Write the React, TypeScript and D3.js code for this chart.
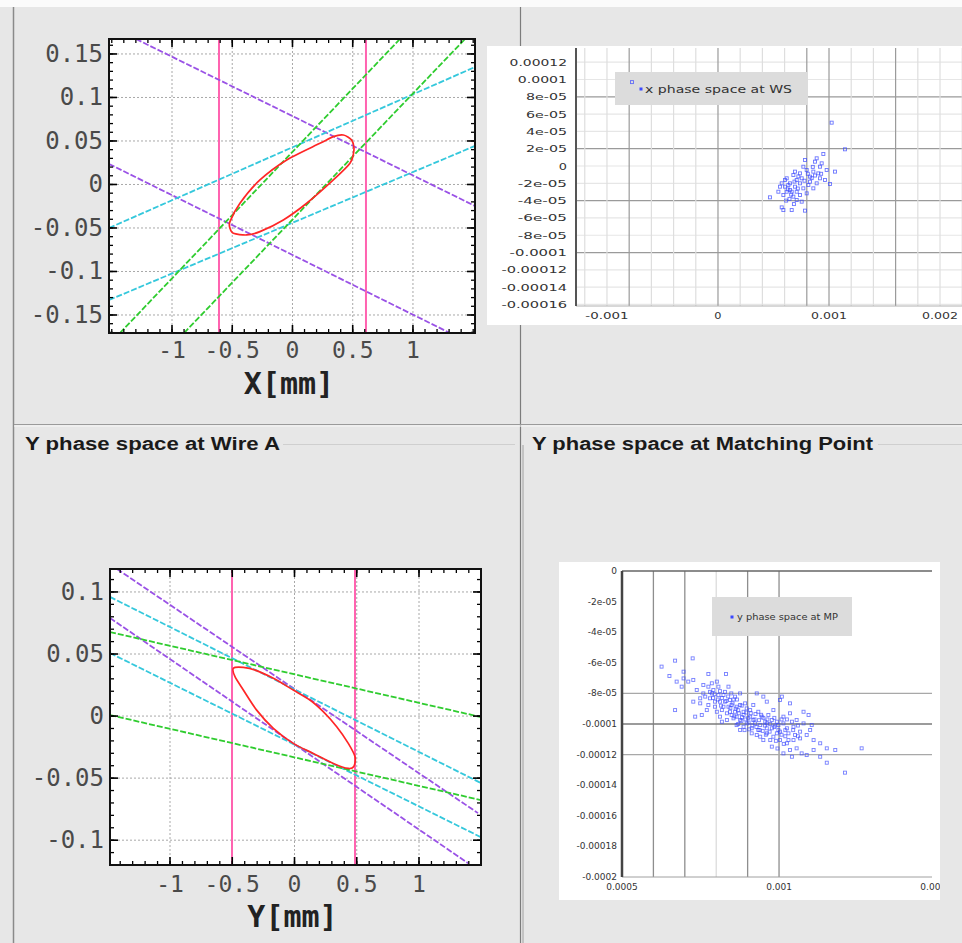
import React from "react";
import * as d3 from "d3";

// ---------------- Top-left: X phase space at Wire A ----------------
const mmTicks = [-1, -0.5, 0, 0.5, 1];
const mmTickLabels = ["-1", "-0.5", "0", "0.5", "1"];
const xpTicks = [0.15, 0.1, 0.05, 0, -0.05, -0.1, -0.15];
const xpTickLabels = ["0.15", "0.1", "0.05", "0", "-0.05", "-0.1", "-0.15"];
const xWires = [-0.61, 0.61];
const xPurple = [
  [[-1.299, 0.1672], [1.515, -0.0247]],
  [[-1.523, 0.0236], [1.307, -0.1707]],
];
const xCyan = [
  [[-1.523, -0.05], [1.515, 0.135]],
  [[-1.523, -0.1328], [1.515, 0.0443]],
];
const xGreen = [
  [[-1.432, -0.1707], [0.892, 0.1672]],
  [[-0.9, -0.1707], [1.432, 0.1672]],
];
const xEllipse = [
  [-0.519, -0.0427], [-0.436, -0.0216], [-0.27, 0.0052], [-0.048, 0.0282],
  [0.228, 0.0473], [0.339, 0.055], [0.422, 0.0569], [0.491, 0.0511],
  [0.51, 0.0397], [0.477, 0.0243], [0.339, 0.0052], [0.118, -0.0216],
  [-0.076, -0.0408], [-0.27, -0.0542], [-0.38, -0.058], [-0.491, -0.0561],
  [-0.519, -0.0503],
];

// ---------------- Bottom-left: Y phase space at Wire A ----------------
const ypTicks = [0.1, 0.05, 0, -0.05, -0.1];
const ypTickLabels = ["0.1", "0.05", "0", "-0.05", "-0.1"];
const yWires = [-0.502, 0.486];
const yPurple = [
  [[-1.426, 0.1185], [1.474, -0.0782]],
  [[-1.482, 0.079], [1.394, -0.1185]],
];
const yCyan = [
  [[-1.482, 0.096], [1.498, -0.054]],
  [[-1.482, 0.0508], [1.498, -0.0976]],
];
const yGreen = [
  [[-1.482, 0.0677], [1.498, -0.0008]],
  [[-1.482, 0.0008], [1.498, -0.0677]],
];
const yEllipse = [
  [-0.491, 0.0385], [-0.411, 0.0392], [-0.304, 0.0366], [-0.17, 0.0304],
  [-0.01, 0.021], [0.124, 0.0129], [0.231, 0.0035], [0.339, -0.0086],
  [0.432, -0.022], [0.486, -0.0328], [0.478, -0.0403], [0.432, -0.0422],
  [0.312, -0.0382], [0.151, -0.0301], [-0.01, -0.022], [-0.17, -0.0099],
  [-0.304, 0.0048], [-0.411, 0.021], [-0.478, 0.0317],
];

// ---------------- Top-right: x phase space at WS (units 1e-6) ----------------
const wsYTicks = [120, 100, 80, 60, 40, 20, 0, -20, -40, -60, -80, -100, -120, -140, -160];
const wsYTickLabels = ["0.00012", "0.0001", "8e-05", "6e-05", "4e-05", "2e-05", "0", "-2e-05", "-4e-05", "-6e-05", "-8e-05", "-0.0001", "-0.00012", "-0.00014", "-0.00016"];
const wsYGridDark = [80, 20, -40, -100];
const wsXGrid = [-1200, -1000, -800, -600, -400, -200, 0, 200, 400, 600, 800, 1000, 1200, 1400, 1600, 1800, 2000, 2200];
const wsXGridDark = [-800, 0, 800, 1000, 1600];
const wsXTicks = [-1000, 0, 1000, 2000];
const wsXTickLabels = ["-0.001", "0", "0.001", "0.002"];
const wsLegend = "x phase space at WS";
const wsPoints = [
  [-775, 97], [1024, 50.1], [1144, 19.3], [949, 13.9], [874, 5], [934, 3.1], [1054, -6.5],
  [769, -0.8], [679, -10.4], [829, -12.3], [904, -8.5], [619, -14.2], [739, -20],
  [559, -23.9], [649, -27.7], [709, -29.7], [814, -21.9], [1009, -20.8], [589, -33.5],
  [679, -35.4], [468, -36.2], [754, -41.2], [574, -47.8], [589, -50.9], [664, -50.9],
  [784, -51.6], [799, -4.6], [859, -6.5], [739, -8.5], [829, -18.1], [889, -20],
  [919, -14.2], [964, -16.2], [709, -16.2], [649, -20], [604, -23.9], [634, -21.9],
  [694, -23.9], [769, -25.8], [739, -33.5], [664, -29.7], [619, -29.7], [544, -29.7],
  [574, -20], [604, -16.2], [694, -6.5], [784, 7], [919, -0.8], [979, -4.6],
  [859, -25.8], [799, -31.6], [709, -39.3], [889, 8.9], [754, -14.2], [644, -38],
  [724, -12], [854, -1], [684, -44], [614, -40], [929, -9], [809, -9],
  [689, -18], [719, -26], [659, -33], [629, -27], [779, -17], [844, -14], [874, -11],
];

// ---------------- Bottom-right: y phase space at MP (units 1e-6) ----------------
const mpYTicks = [0, -20, -40, -60, -80, -100, -120, -140, -160, -180, -200];
const mpYTickLabels = ["0", "-2e-05", "-4e-05", "-6e-05", "-8e-05", "-0.0001", "-0.00012", "-0.00014", "-0.00016", "-0.00018", "-0.0002"];
const mpYGrid = [-80, -100, -120];
const mpYGridDark = [-100];
const mpXGrid = [600, 700, 800, 900, 1000];
const mpXGridLight = [800];
const mpXTicks = [500, 1000, 1500];
const mpXTickLabels = ["0.0005", "0.001", "0.0015"];
const mpLegend = "y phase space at MP";
const mpPoints = [
  [669, -58.6], [725, -57.1], [651, -68.6], [626, -62.5], [696, -65.8], [775, -67.3], [831, -67.3],
  [669, -90.9], [727, -71.2], [674, -72.3], [690, -75.6], [711, -72.3], [738, -77.8], [759, -80],
  [786, -73.4], [807, -75.6], [780, -83.2], [823, -81.1], [844, -84.3], [749, -86.5], [733, -95.2],
  [754, -94.1], [796, -88.7], [818, -90.9], [839, -88.7], [860, -92], [876, -87.6], [887, -94.1],
  [908, -90.9], [929, -80], [950, -82.1], [961, -85.4], [1003, -84.3], [982, -90.9], [918, -97.4],
  [897, -99.6], [876, -97.4], [855, -96.3], [834, -97.4], [818, -98.5], [940, -100.7], [961, -99.6],
  [977, -102.8], [993, -98.5], [1014, -95.2], [1035, -93], [1056, -97.4], [1078, -92], [1094, -94.1],
  [1104, -100.7], [1067, -105], [1046, -101.8], [1025, -102.8], [1003, -105], [982, -108.3],
  [1003, -110.5], [1025, -112.6], [1046, -110.5], [1067, -109.4], [1088, -107.2], [1110, -110.5],
  [1131, -112.6], [1152, -115.9], [1179, -117], [1263, -115.9], [1152, -125.3], [1210, -131.8],
  [1041, -121.4], [1072, -119.2], [1088, -120.3], [1014, -119.2], [1056, -115.9], [972, -110.5],
  [961, -106.1], [934, -103.9], [913, -102.8], [887, -101.8], [865, -100.7], [929, -107.2],
  [950, -110.5], [908, -95.2], [876, -103.9], [849, -87.6], [828, -85.4], [807, -81.1], [791, -77.8],
  [775, -75.6], [765, -82.1], [775, -87.6], [802, -92], [812, -85.4], [834, -93], [849, -94.1],
  [865, -88.7], [892, -86.5], [897, -89.8], [918, -87.6], [934, -92], [945, -95.2], [966, -94.1],
  [977, -97.4], [998, -100.7], [1014, -99.6], [1030, -106.1], [1051, -107.2], [993, -106.1],
  [961, -102.8], [924, -99.6], [865, -95.2], [844, -92], [823, -88.7], [796, -85.4], [786, -80],
  [749, -83.2], [727, -85.4], [770, -90.9], [812, -95.2], [887, -92], [913, -106.1], [940, -108.3],
  [1035, -117], [1110, -117], [1131, -121.4], [1030, -110.5], [977, -114.8], [956, -98.5],
  [802, -72.3], [839, -75.6], [860, -82.1], [876, -80], [759, -74.5], [696, -70.2], [1009, -82.1],
  [1035, -86.5], [1078, -99.6], [1099, -103.9], [1041, -98.5], [870, -91], [902, -96], [925, -93.5],
  [955, -101], [985, -96], [1020, -104], [880, -98], [845, -89.5], [818, -83], [795, -80.5],
  [905, -103.5], [1060, -101], [990, -111], [1045, -104], [855, -84], [780, -79], [815, -88],
  [828, -79], [838, -82], [852, -86.5], [862, -90], [872, -93], [882, -95.5], [893, -97],
  [903, -99], [915, -101], [928, -102], [938, -104], [948, -104.5], [958, -107], [970, -105],
  [985, -102], [998, -104], [1008, -107], [1020, -108], [832, -85], [848, -80], [866, -84],
  [881, -88], [896, -92.5], [910, -93], [922, -97], [936, -97.5], [950, -96], [963, -97],
  [972, -100], [988, -101], [805, -84], [790, -83], [812, -78.5], [858, -95], [870, -100],
  [890, -104], [943, -94], [1008, -97], [1025, -97], [1060, -108], [1015, -113], [995, -116],
];

const COLORS = {
  purple: "#9a52e6",
  cyan: "#35c8dc",
  green: "#2fcc2f",
  wire: "#ff63b0",
  ellipse: "#ff2626",
  points: "#3a48ff",
};

type Seg = number[][];

function PhasePlot(props: {
  id: string;
  left: number; top: number; right: number; bottom: number;
  xDomain: [number, number]; yDomain: [number, number];
  yTicks: number[]; yLabels: string[];
  xMinor: number; yMinor: number;
  wires: number[]; purple: Seg[]; cyan: Seg[]; green: Seg[]; ellipse: number[][];
  axisTitle: string; xLabelBase: number; titleBase: number;
}) {
  const { left, top, right, bottom } = props;
  const x = d3.scaleLinear().domain(props.xDomain).range([left, right]);
  const y = d3.scaleLinear().domain(props.yDomain).range([bottom, top]);
  const line = d3.line<number[]>().x((d) => x(d[0])).y((d) => y(d[1]));
  const ell = d3
    .line<number[]>()
    .x((d) => x(d[0]))
    .y((d) => y(d[1]))
    .curve(d3.curveCardinalClosed.tension(0.2));
  const minor = (dom: [number, number], step: number) => {
    const out: number[] = [];
    for (let i = Math.ceil(dom[0] / step); i <= Math.floor(dom[1] / step); i++) out.push(i * step);
    return out;
  };
  const xMin = minor(props.xDomain, props.xMinor);
  const yMin = minor(props.yDomain, props.yMinor);
  const clip = `clip-${props.id}`;
  const mono = "'DejaVu Sans Mono', 'Liberation Mono', monospace";
  return (
    <g>
      <defs>
        <clipPath id={clip}>
          <rect x={left} y={top} width={right - left} height={bottom - top} />
        </clipPath>
      </defs>
      <rect x={left} y={top} width={right - left} height={bottom - top} fill="#fff" />
      {mmTicks.map((t) => (
        <line key={"gx" + t} x1={x(t)} x2={x(t)} y1={top} y2={bottom} stroke="#a8a8a8" strokeDasharray="2,2" />
      ))}
      {props.yTicks.map((t) => (
        <line key={"gy" + t} x1={left} x2={right} y1={y(t)} y2={y(t)} stroke="#a8a8a8" strokeDasharray="2,2" />
      ))}
      <g clipPath={`url(#${clip})`}>
        {props.wires.map((w) => (
          <line key={"w" + w} x1={x(w)} x2={x(w)} y1={top} y2={bottom} stroke={COLORS.wire} strokeWidth={2} />
        ))}
        {props.purple.map((s, i) => (
          <path key={"p" + i} d={line(s) || ""} stroke={COLORS.purple} strokeWidth={1.8} strokeDasharray="6,2" fill="none" />
        ))}
        {props.cyan.map((s, i) => (
          <path key={"c" + i} d={line(s) || ""} stroke={COLORS.cyan} strokeWidth={1.8} strokeDasharray="6,2" fill="none" />
        ))}
        {props.green.map((s, i) => (
          <path key={"g" + i} d={line(s) || ""} stroke={COLORS.green} strokeWidth={1.8} strokeDasharray="6,2" fill="none" />
        ))}
        <path d={ell(props.ellipse) || ""} stroke={COLORS.ellipse} strokeWidth={1.7} fill="none" />
      </g>
      {xMin.map((t) => (
        <g key={"mx" + t}>
          <line x1={x(t)} x2={x(t)} y1={bottom} y2={bottom - 4} stroke="#000" strokeWidth={1.3} />
          <line x1={x(t)} x2={x(t)} y1={top} y2={top + 4} stroke="#000" strokeWidth={1.3} />
        </g>
      ))}
      {yMin.map((t) => (
        <g key={"my" + t}>
          <line x1={left} x2={left + 4} y1={y(t)} y2={y(t)} stroke="#000" strokeWidth={1.3} />
          <line x1={right} x2={right - 4} y1={y(t)} y2={y(t)} stroke="#000" strokeWidth={1.3} />
        </g>
      ))}
      {mmTicks.map((t) => (
        <g key={"Mx" + t}>
          <line x1={x(t)} x2={x(t)} y1={bottom} y2={bottom - 8} stroke="#000" strokeWidth={1.6} />
          <line x1={x(t)} x2={x(t)} y1={top} y2={top + 8} stroke="#000" strokeWidth={1.6} />
        </g>
      ))}
      {props.yTicks.map((t) => (
        <g key={"My" + t}>
          <line x1={left} x2={left + 8} y1={y(t)} y2={y(t)} stroke="#000" strokeWidth={1.6} />
          <line x1={right} x2={right - 8} y1={y(t)} y2={y(t)} stroke="#000" strokeWidth={1.6} />
        </g>
      ))}
      <rect x={left} y={top} width={right - left} height={bottom - top} fill="none" stroke="#111" strokeWidth={2} />
      {props.yTicks.map((t, i) => (
        <text key={"ly" + t} x={left - 6} y={y(t) + 8} textAnchor="end" fontFamily={mono} fontSize={24} fill="#4a4a4a">
          {props.yLabels[i]}
        </text>
      ))}
      {mmTicks.map((t, i) => (
        <text key={"lx" + t} x={x(t)} y={props.xLabelBase} textAnchor="middle" fontFamily={mono} fontSize={23} fill="#4a4a4a">
          {mmTickLabels[i]}
        </text>
      ))}
      <text x={(left + right) / 2 - 3} y={props.titleBase} textAnchor="middle" fontFamily={mono} fontWeight="bold" fontSize={30} fill="#222">
        {props.axisTitle}
      </text>
    </g>
  );
}

function ScatterWS() {
  const L = 576, T = 48, R = 962, B = 306;
  const x = d3.scaleLinear().domain([-1279, 2198]).range([L, R]);
  const y = d3.scaleLinear().domain([-161.8, 136.4]).range([B, T]);
  const sans = "'DejaVu Sans', sans-serif";
  return (
    <g>
      <defs>
        <clipPath id="clip-ws">
          <rect x={487} y={46} width={475} height={279} />
        </clipPath>
      </defs>
      <rect x={487} y={46} width={475} height={279} fill="#fff" />
      <g clipPath="url(#clip-ws)">
        {wsYTicks.map((t) => (
          <line key={"hy" + t} x1={L} x2={R} y1={y(t)} y2={y(t)} stroke={wsYGridDark.includes(t) ? "#9a9a9a" : "#e6e6e6"} strokeWidth={1.2} />
        ))}
        {wsXGrid.map((t) => (
          <line key={"vx" + t} x1={x(t)} x2={x(t)} y1={T} y2={B} stroke={wsXGridDark.includes(t) ? "#9a9a9a" : "#dedede"} strokeWidth={1.2} />
        ))}
        <line x1={L} x2={R} y1={B} y2={B} stroke="#b0b0b0" />
        <line x1={L} x2={L} y1={T} y2={B} stroke="#555" strokeWidth={2} />
        <rect x={615} y={72} width={193} height={33} fill="#dcdcdc" />
        <rect x={639.5} y={87.5} width={3} height={3} fill={COLORS.points} />
        <text x={645} y={93} fontFamily={sans} fontSize={10} fill="#333" textLength={147} lengthAdjust="spacingAndGlyphs">
          {wsLegend}
        </text>
        {wsPoints.map((p, i) => (
          <rect key={"wp" + i} x={x(p[0]) - 1.5} y={y(p[1]) - 1.5} width={3} height={3} fill="none" stroke={COLORS.points} strokeWidth={0.9} opacity={0.75} />
        ))}
        {wsYTicks.map((t, i) => (
          <text key={"wy" + t} x={567} y={y(t) + 3.5} textAnchor="end" fontFamily={sans} fontSize={9} fill="#333" textLength={wsYTickLabels[i].length * 8.2} lengthAdjust="spacingAndGlyphs">
            {wsYTickLabels[i]}
          </text>
        ))}
        {wsXTicks.map((t, i) => (
          <text key={"wx" + t} x={x(t)} y={319} textAnchor="middle" fontFamily={sans} fontSize={9} fill="#333" textLength={wsXTickLabels[i].length * 7.2} lengthAdjust="spacingAndGlyphs">
            {wsXTickLabels[i]}
          </text>
        ))}
      </g>
    </g>
  );
}

function ScatterMP() {
  const L = 622, T = 571, R = 932, B = 877;
  const x = d3.scaleLinear().domain([500, 1487]).range([L, R]);
  const y = d3.scaleLinear().domain([-200, 0]).range([B, T]);
  const sans = "'DejaVu Sans', sans-serif";
  return (
    <g>
      <defs>
        <clipPath id="clip-mp">
          <rect x={559} y={562} width={381} height={338} />
        </clipPath>
      </defs>
      <rect x={559} y={562} width={381} height={338} fill="#fff" />
      <g clipPath="url(#clip-mp)">
        {mpXGrid.map((t) => (
          <line key={"vx" + t} x1={x(t)} x2={x(t)} y1={T} y2={B} stroke={mpXGridLight.includes(t) ? "#dcdcdc" : "#8e8e8e"} strokeWidth={1.3} />
        ))}
        {mpYGrid.map((t) => (
          <line key={"hy" + t} x1={L} x2={R} y1={y(t)} y2={y(t)} stroke={mpYGridDark.includes(t) ? "#7a7a7a" : "#a8a8a8"} strokeWidth={1.3} />
        ))}
        <line x1={L} x2={R} y1={T} y2={T} stroke="#666" strokeWidth={1.6} />
        <line x1={L} x2={R} y1={B} y2={B} stroke="#a0a0a0" />
        <line x1={L} x2={L} y1={T} y2={B} stroke="#444" strokeWidth={2.5} />
        <rect x={712} y={597} width={140} height={39} fill="#dcdcdc" />
        <rect x={730.5} y={615.5} width={3} height={3} fill={COLORS.points} />
        <text x={737} y={620} fontFamily={sans} fontSize={9} fill="#333" textLength={101} lengthAdjust="spacingAndGlyphs">
          {mpLegend}
        </text>
        {mpPoints.map((p, i) => (
          <rect key={"mp" + i} x={x(p[0]) - 1.5} y={y(p[1]) - 1.5} width={3} height={3} fill="none" stroke={COLORS.points} strokeWidth={0.9} opacity={0.7} />
        ))}
        {mpYTicks.map((t, i) => (
          <text key={"my" + t} x={617} y={y(t) + 3} textAnchor="end" fontFamily={sans} fontSize={9} fill="#333">
            {mpYTickLabels[i]}
          </text>
        ))}
        {mpXTicks.map((t, i) => (
          <text key={"mx" + t} x={x(t)} y={890} textAnchor="middle" fontFamily={sans} fontSize={9} fill="#333">
            {mpXTickLabels[i]}
          </text>
        ))}
      </g>
    </g>
  );
}

export default function App() {
  const titleFont = "'Liberation Sans', Arial, sans-serif";
  return (
    <svg width={962} height={943} style={{ position: "absolute", left: 0, top: 0, display: "block" }}>
      <rect width={962} height={943} fill="#e7e7e7" />
      <rect width={962} height={7} fill="#fbfbfb" />
      <line x1={13.5} y1={7} x2={13.5} y2={943} stroke="#8a8a8a" strokeWidth={1.5} />
      <line x1={520.5} y1={7} x2={520.5} y2={943} stroke="#7c7c7c" strokeWidth={1.2} />
      <line x1={14} y1={424.5} x2={962} y2={424.5} stroke="#9a9a9a" strokeWidth={1.2} />
      <line x1={14} y1={426} x2={962} y2={426} stroke="#f7f7f7" />
      <line x1={283} y1={444.5} x2={515} y2={444.5} stroke="#cfcfcf" />
      <line x1={878} y1={444.5} x2={962} y2={444.5} stroke="#cfcfcf" />
      <line x1={523} y1={445} x2={523} y2={943} stroke="#a0a0a0" />
      <text x={25} y={450} fontFamily={titleFont} fontWeight="bold" fontSize={18} fill="#1a1a1a" textLength={255} lengthAdjust="spacingAndGlyphs">
        Y phase space at Wire A
      </text>
      <text x={532} y={450} fontFamily={titleFont} fontWeight="bold" fontSize={18} fill="#1a1a1a" textLength={341} lengthAdjust="spacingAndGlyphs">
        Y phase space at Matching Point
      </text>

      <PhasePlot
        id="xa"
        left={109} top={39} right={475} bottom={333}
        xDomain={[-1.523, 1.515]} yDomain={[-0.1707, 0.1672]}
        yTicks={xpTicks} yLabels={xpTickLabels}
        xMinor={0.1} yMinor={0.01}
        wires={xWires} purple={xPurple} cyan={xCyan} green={xGreen} ellipse={xEllipse}
        axisTitle="X[mm]" xLabelBase={358} titleBase={394}
      />
      <PhasePlot
        id="ya"
        left={110} top={569} right={481} bottom={865}
        xDomain={[-1.482, 1.498]} yDomain={[-0.12, 0.1185]}
        yTicks={ypTicks} yLabels={ypTickLabels}
        xMinor={0.1} yMinor={0.01}
        wires={yWires} purple={yPurple} cyan={yCyan} green={yGreen} ellipse={yEllipse}
        axisTitle="Y[mm]" xLabelBase={892} titleBase={927}
      />
      <ScatterWS />
      <ScatterMP />
    </svg>
  );
}
